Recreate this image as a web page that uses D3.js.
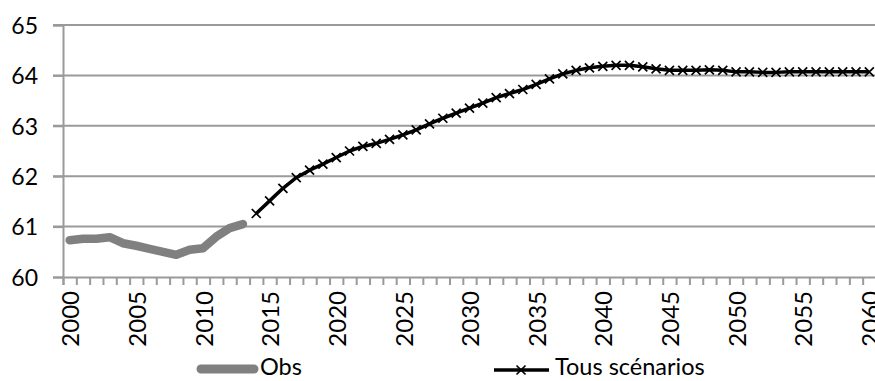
<!DOCTYPE html>
<html><head><meta charset="utf-8">
<script src="https://cdn.jsdelivr.net/npm/d3@7/dist/d3.min.js"></script>
<style>
html,body{margin:0;padding:0;background:#fff;}
svg text{font-family:Lato,"Open Sans",sans-serif;fill:#000;}
</style></head>
<body>
<svg id="c" width="875" height="381"></svg>
<script>
const years = d3.range(2000, 2061);
const yTicks = [60, 61, 62, 63, 64, 65];
const xLabelYears = [2000, 2005, 2010, 2015, 2020, 2025, 2030, 2035, 2040, 2045, 2050, 2055, 2060];
const obsYears = d3.range(2000, 2014);
const obsValues = [60.73, 60.76, 60.76, 60.79, 60.67, 60.62, 60.56, 60.50, 60.44, 60.54, 60.57, 60.80, 60.97, 61.05];
const projYears = d3.range(2014, 2061);
const projValues = [61.26, 61.51, 61.76, 61.97, 62.12, 62.24, 62.37, 62.50, 62.59, 62.65,
  62.73, 62.82, 62.92, 63.04, 63.15, 63.25, 63.35, 63.45, 63.56, 63.64,
  63.72, 63.82, 63.93, 64.03, 64.10, 64.15, 64.18, 64.20, 64.20, 64.17,
  64.13, 64.10, 64.10, 64.10, 64.11, 64.10, 64.07, 64.07, 64.06, 64.06,
  64.07, 64.07, 64.07, 64.07, 64.07, 64.07, 64.07];
const legendLabels = ["Obs", "Tous scénarios"];

const svg = d3.select("#c");
const L = 63, R = 876, T = 25, B = 277;
const x = d3.scaleBand().domain(years).range([L, R]).padding(0);
const xc = d => x(d) + x.bandwidth() / 2;
const xEdge = d3.scaleLinear().domain([0, years.length]).range([L, R]);
const y = d3.scaleLinear().domain([60, 65]).range([B, T]);
const gridColor = "#9a9a9a";

// gridlines
svg.append("g").selectAll("line").data(yTicks.filter(v => v > 60)).join("line")
  .attr("x1", L - 10).attr("x2", R).attr("y1", d => y(d)).attr("y2", d => y(d))
  .attr("stroke", gridColor).attr("stroke-width", 2);

// y axis
const ya = svg.append("g").attr("transform", `translate(${L},0)`)
  .call(d3.axisLeft(y).tickValues(yTicks).tickSize(10).tickPadding(15).tickFormat(d3.format("d")));
ya.select(".domain").attr("stroke", gridColor).attr("stroke-width", 2);
ya.selectAll(".tick line").attr("stroke", gridColor).attr("stroke-width", 2);
ya.selectAll("text").attr("font-size", 23).attr("dy", "0.36em");

// x axis tick marks at category boundaries
const xa = svg.append("g").attr("transform", `translate(0,${B})`)
  .call(d3.axisBottom(xEdge).tickValues(d3.range(0, years.length + 1)).tickSize(8).tickFormat(""));
xa.select(".domain").attr("stroke", gridColor).attr("stroke-width", 2);
xa.selectAll(".tick line").attr("stroke", gridColor).attr("stroke-width", 2);

// x labels
const xl = svg.append("g").attr("transform", `translate(0,${B})`)
  .call(d3.axisBottom(x).tickValues(xLabelYears).tickSize(0).tickPadding(0));
xl.select(".domain").remove();
xl.selectAll("text").attr("font-size", 24)
  .attr("transform", "rotate(-90)").attr("text-anchor", "end")
  .attr("x", -14).attr("y", 1).attr("dy", "0.36em").attr("dx", 0);

// obs line
const lineObs = d3.line().x((d, i) => xc(obsYears[i])).y(d => y(d));
svg.append("path").datum(obsValues).attr("d", lineObs)
  .attr("fill", "none").attr("stroke", "#808080").attr("stroke-width", 8.5)
  .attr("stroke-linecap", "round").attr("stroke-linejoin", "round");

// projection line
const lineProj = d3.line().x((d, i) => xc(projYears[i])).y(d => y(d));
svg.append("path").datum(projValues).attr("d", lineProj)
  .attr("fill", "none").attr("stroke", "#000").attr("stroke-width", 3.5)
  .attr("stroke-linejoin", "round");
const m = 4.5;
svg.append("g").selectAll("path").data(projValues).join("path")
  .attr("d", (d, i) => {
    const cx = xc(projYears[i]), cy = y(d);
    return `M${cx - m},${cy - m}L${cx + m},${cy + m}M${cx - m},${cy + m}L${cx + m},${cy - m}`;
  })
  .attr("stroke", "#000").attr("stroke-width", 1.7).attr("fill", "none");

// legend
const lg = svg.append("g");
lg.append("line").attr("x1", 201).attr("x2", 254).attr("y1", 369).attr("y2", 369)
  .attr("stroke", "#808080").attr("stroke-width", 9).attr("stroke-linecap", "round");
lg.append("text").attr("x", 260).attr("y", 367).attr("dy", "0.36em").attr("font-size", 23.5).text(legendLabels[0]);
lg.append("line").attr("x1", 494).attr("x2", 549).attr("y1", 370).attr("y2", 370)
  .attr("stroke", "#000").attr("stroke-width", 3.5);
lg.append("path").attr("d", `M${521 - m},${370 - m}L${521 + m},${370 + m}M${521 - m},${370 + m}L${521 + m},${370 - m}`)
  .attr("stroke", "#000").attr("stroke-width", 1.7);
lg.append("text").attr("x", 555).attr("y", 367).attr("dy", "0.36em").attr("font-size", 23.5).text(legendLabels[1]);
</script>
</body></html>
